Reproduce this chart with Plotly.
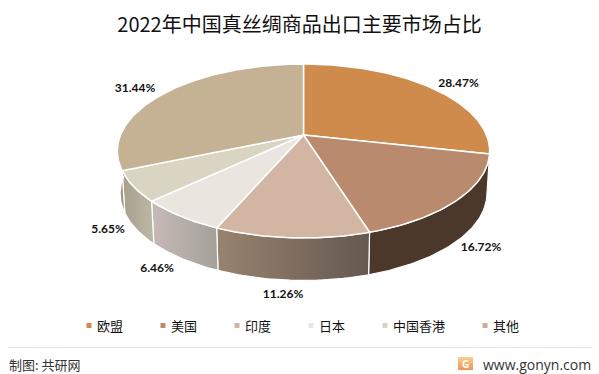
import numpy as np
import plotly.graph_objects as go

# ---- data ----
categories = ["欧盟", "美国", "印度", "日本", "中国香港", "其他"]
shares = [28.47, 16.72, 11.26, 6.46, 5.65, 31.44]
title_text = "2022年中国真丝绸商品出口主要市场占比"
source_text = "制图: 共研网"
site_text = "www.gonyn.com"

# ---- style / geometry (pixels) ----
top_colors = ["#CE8B4C", "#B98A6D", "#D2B6A3", "#EBE5E0", "#D9D5C2", "#C5B194"]
wall_colors = [
    ["#4B382B", "#4B382B"],
    ["#4B382B", "#4B382B"],
    ["#98836F", "#655850"],
    ["#C6BAB6", "#A5A09A"],
    ["#A79F8C", "#BDB8A5"],
    ["#A5957F", "#B5A58E"],
]
CX, CY, A, B, K, DEPTH, BOTTOM_SHRINK = 303.5, 135, 183, 84, 0.184, 42.5, 0.985
label_xy = [(458.5, 84), (481, 248), (283, 295), (157, 269), (108, 230), (135, 89)]
legend_x = [89, 163, 237, 311, 385, 485]
LEGEND_Y = 325.5
FONT_CJK = "Noto Sans CJK SC"


def project(theta):
    """Map a pie angle (clockwise from 12 o'clock) on to the tilted disc."""
    u, v = np.sin(theta), -np.cos(theta)
    w = 1 - K * v
    return CX + A * u / w, CY + B * v / w


def arc(start, end):
    n = max(int(abs(end - start) * 60), 4)
    return project(np.linspace(start, end, n))


fractions = np.array(shares) / sum(shares)
edges = np.concatenate([[0], np.cumsum(fractions)]) * 2 * np.pi

fig = go.Figure()

# side walls first, then the top faces over them
for i, name in enumerate(categories):
    x, y = arc(edges[i], edges[i + 1])
    xb = CX + (x - CX) * BOTTOM_SHRINK
    yb = y + DEPTH
    fig.add_trace(go.Scatter(
        x=np.concatenate([x, xb[::-1], x[:1]]),
        y=np.concatenate([y, yb[::-1], y[:1]]),
        mode="lines", line=dict(color="white", width=1.2),
        fill="toself",
        fillgradient=dict(type="horizontal",
                          colorscale=[[0, wall_colors[i][0]], [1, wall_colors[i][1]]]),
        hoverinfo="skip", showlegend=False, name=name + " wall",
    ))

for i, name in enumerate(categories):
    x, y = arc(edges[i], edges[i + 1])
    fig.add_trace(go.Scatter(
        x=np.concatenate([[CX], x, [CX]]),
        y=np.concatenate([[CY], y, [CY]]),
        mode="lines", line=dict(color="white", width=1.5),
        fill="toself", fillcolor=top_colors[i],
        name=name, showlegend=False,
        text=f"{name}: {shares[i]:.2f}%", hoverinfo="text",
    ))

# value labels
fig.add_trace(go.Scatter(
    x=[p[0] for p in label_xy], y=[p[1] for p in label_xy],
    mode="text", text=[f"{s:.2f}%" for s in shares],
    textposition="middle center",
    textfont=dict(family="Lato", size=12, color="#111111", weight="bold"),
    hoverinfo="skip", showlegend=False,
))

# legend row
fig.add_trace(go.Scatter(
    x=legend_x, y=[LEGEND_Y] * len(categories),
    mode="markers", marker=dict(symbol="square", size=5, color=top_colors, line=dict(width=0)),
    hoverinfo="skip", showlegend=False,
))

# site logo
fig.add_trace(go.Scatter(
    x=[458, 473, 473, 458, 458], y=[357, 357, 370, 370, 357],
    mode="lines", line=dict(width=0), fill="toself",
    fillgradient=dict(type="vertical", colorscale=[[0, "#F2935B"], [1, "#FAD08C"]]),
    hoverinfo="skip", showlegend=False,
))

annotations = [
    dict(x=lx + 6, y=LEGEND_Y, text=c, xref="x", yref="y", xanchor="left", yanchor="middle",
         showarrow=False, font=dict(family=FONT_CJK, size=13, color="#111111"))
    for lx, c in zip(legend_x, categories)
]
annotations += [
    dict(x=7, y=364, text=source_text, xref="x", yref="y", xanchor="left", yanchor="middle",
         showarrow=False, font=dict(family=FONT_CJK, size=13, color="#333333")),
    dict(x=592.5, y=364, text=site_text, xref="x", yref="y", xanchor="right", yanchor="middle",
         showarrow=False, font=dict(family="Open Sans", size=14, color="#333333")),
    dict(x=465.5, y=363.5, text="<b>G</b>", xref="x", yref="y", xanchor="center", yanchor="middle",
         showarrow=False, font=dict(family="Open Sans", size=10, color="white")),
]

shapes = [
    dict(type="line", x0=8, x1=592, y0=347.5, y1=347.5, xref="x", yref="y",
         line=dict(color="#E6E6E6", width=1), layer="below"),
]

fig.update_layout(
    width=599, height=374, margin=dict(l=0, r=0, t=0, b=0, pad=0),
    paper_bgcolor="white", plot_bgcolor="white",
    showlegend=False,
    title=dict(text=title_text, x=299.5 / 599, xanchor="center", y=1 - 25 / 374, yanchor="middle",
               font=dict(family=FONT_CJK, size=20, color="#111111")),
    xaxis=dict(range=[0, 599], visible=False, fixedrange=True),
    yaxis=dict(range=[374, 0], visible=False, fixedrange=True),
    annotations=annotations, shapes=shapes,
)

fig.write_html("out.html", config={"displayModeBar": False},
               post_script="document.body.style.margin='0';document.body.style.overflow='hidden';")
